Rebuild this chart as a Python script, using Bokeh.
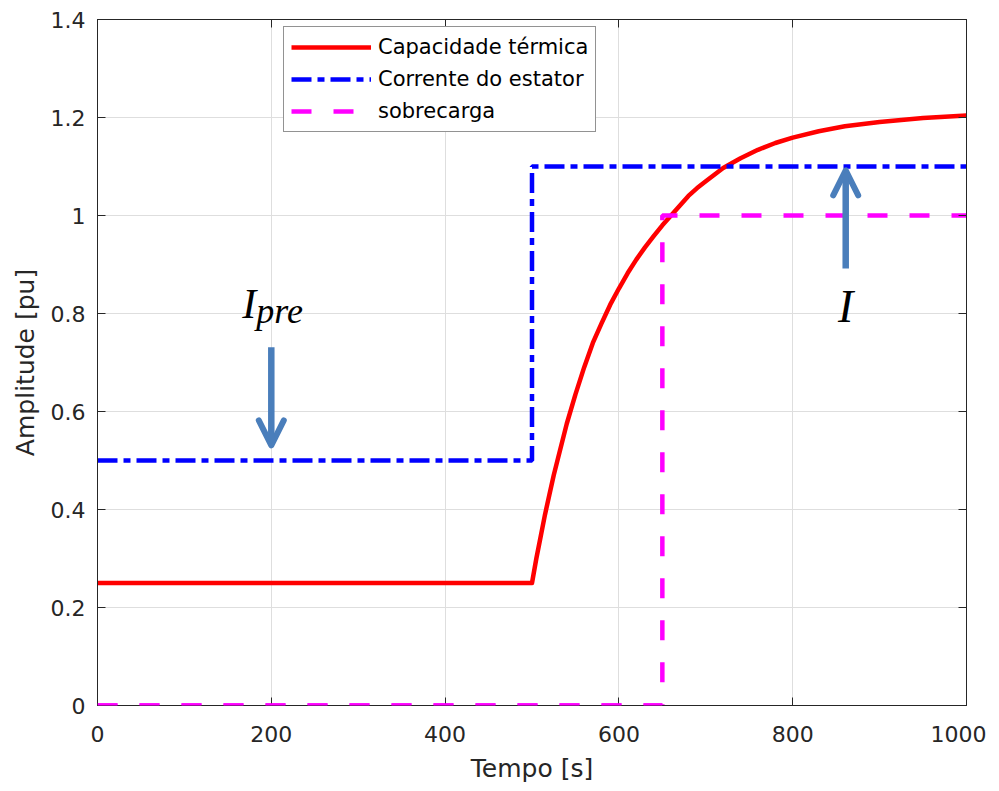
from bokeh.plotting import figure
from bokeh.models import (Range1d, LinearAxis, Legend, LegendItem, Arrow, OpenHead,
                          CustomJSTickFormatter, FixedTicker, Label)
from bokeh.embed import file_html
from bokeh.resources import INLINE

# ---- data ----
t_cap = [0, 500, 505, 510, 515, 520, 525, 530, 540, 550, 560, 570, 580, 590, 600,
         610, 620, 630, 640, 650, 660, 670, 680, 690, 700, 720, 740, 760, 780, 800,
         830, 860, 900, 950, 1000]
cap = [0.25, 0.25, 0.30, 0.345, 0.39, 0.43, 0.47, 0.505, 0.575, 0.635, 0.69, 0.74,
       0.78, 0.818, 0.851, 0.882, 0.91, 0.935, 0.958, 0.98, 1.0, 1.02, 1.04, 1.056,
       1.07, 1.097, 1.117, 1.134, 1.148, 1.159, 1.172, 1.182, 1.191, 1.199, 1.204]

t_stator = [0, 500, 1000]
stator = [0.5, 1.1, 1.1]

t_over = [0, 650, 1000]
over = [0.0, 1.0, 1.0]

labels = ["Capacidade térmica", "Corrente do estator", "sobrecarga"]
x_ticks = [0, 200, 400, 600, 800, 1000]
y_ticks = [0, 0.2, 0.4, 0.6, 0.8, 1.0, 1.2, 1.4]

# annotation anchors (data units)
ipre_anchor = (200, 0.82)
ipre_arrow = (200, 0.731, 0.531)
i_anchor = (861, 0.815)
i_arrow = (861, 0.892, 1.092)

AX = "#262626"
FONT = "DejaVu Sans"
ARROW_C = "#4A7EBB"
MAG = "#FF00FF"
MAG_DASH = "20 22"

p = figure(frame_width=869, frame_height=686,
           x_range=Range1d(0, 1000), y_range=Range1d(0, 1.4),
           output_backend="svg", toolbar_location=None,
           min_border_left=97, min_border_top=19, min_border_right=20,
           min_border_bottom=60,
           background_fill_color="white", border_fill_color="white")

p.outline_line_color = AX
p.outline_line_width = 1

for ax in (p.xaxis[0], p.yaxis[0]):
    ax.axis_line_color = AX
    ax.major_tick_line_color = AX
    ax.major_tick_in = 8
    ax.major_tick_out = 0
    ax.minor_tick_line_color = None
    ax.major_label_text_font = FONT
    ax.major_label_text_font_size = "22px"
    ax.major_label_text_color = AX
    ax.axis_label_text_font = FONT
    ax.axis_label_text_font_size = "25px"
    ax.axis_label_text_font_style = "normal"
    ax.axis_label_text_color = AX

p.xaxis.ticker = FixedTicker(ticks=x_ticks)
p.yaxis.ticker = FixedTicker(ticks=y_ticks)
p.yaxis.formatter = CustomJSTickFormatter(code="return tick.toFixed(1).replace(/\\.0$/, '');")
p.xaxis.axis_label = "Tempo [s]"
p.yaxis.axis_label = "Amplitude [pu]"
p.xaxis.major_label_standoff = 20
p.yaxis.major_label_standoff = 12
p.xaxis.axis_label_standoff = 9
p.yaxis.axis_label_standoff = 8

for loc, ticks in (("above", x_ticks), ("right", y_ticks)):
    a = LinearAxis(ticker=FixedTicker(ticks=ticks))
    a.axis_line_color = AX
    a.major_tick_line_color = AX
    a.major_tick_in = 8
    a.major_tick_out = 0
    a.minor_tick_line_color = None
    a.major_label_text_font_size = "1px"
    a.major_label_text_color = None
    a.major_label_standoff = 0
    p.add_layout(a, loc)

p.xgrid.grid_line_color = "#dedede"
p.ygrid.grid_line_color = "#dedede"

r1 = p.line(t_cap, cap, line_color="#FF0000", line_width=4.5, line_join="round")
r2 = p.step(t_stator, stator, mode="after", line_color="#0000FF", line_width=4.5,
            line_dash="20 6 7 6")
r3 = p.step(t_over, over, mode="after", line_color=MAG, line_width=4.5,
            line_dash=MAG_DASH)

# the zero-level part of the overload line sits on the frame edge; redraw it
# unclipped (from the same data) so its full width shows
p.add_layout(Arrow(end=None, x_start=t_over[0], y_start=over[0],
                   x_end=t_over[1], y_end=over[0],
                   line_color=MAG, line_width=4.5, line_dash=MAG_DASH,
                   level="overlay"))

legend = Legend(items=[LegendItem(label=labels[0], renderers=[r1]),
                       LegendItem(label=labels[1], renderers=[r2]),
                       LegendItem(label=labels[2], renderers=[r3])],
                location=(186, 573))
legend.label_text_font = FONT
legend.label_text_font_size = "21px"
legend.label_text_color = "#000000"
legend.glyph_width = 80
legend.glyph_height = 26
legend.label_height = 26
legend.label_standoff = 7
legend.spacing = 6
legend.padding = 7
legend.margin = 0
legend.border_line_color = AX
legend.border_line_width = 1
legend.background_fill_color = "white"
legend.background_fill_alpha = 1
p.add_layout(legend)

# arrows
for (ax_, ys, ye) in (ipre_arrow, i_arrow):
    p.add_layout(Arrow(end=OpenHead(size=25, line_color=ARROW_C, line_width=6,
                                    line_cap="round", line_join="round"),
                       x_start=ax_, y_start=ys, x_end=ax_, y_end=ye,
                       line_color=ARROW_C, line_width=6.5))

# texts
p.add_layout(Label(x=ipre_anchor[0], y=ipre_anchor[1], text="I", x_offset=-15,
                   text_align="right", text_baseline="alphabetic",
                   text_font="Liberation Serif", text_font_style="italic",
                   text_font_size="42px", text_color="black"))
p.add_layout(Label(x=ipre_anchor[0], y=ipre_anchor[1], text="pre", x_offset=-15, y_offset=-7,
                   text_align="left", text_baseline="alphabetic",
                   text_font="Liberation Serif", text_font_style="italic",
                   text_font_size="36px", text_color="black"))
p.add_layout(Label(x=i_anchor[0], y=i_anchor[1], text="I",
                   text_align="center", text_baseline="alphabetic",
                   text_font="Liberation Serif", text_font_style="italic",
                   text_font_size="46px", text_color="black"))

open("out.html", "w").write(file_html(p, INLINE))
